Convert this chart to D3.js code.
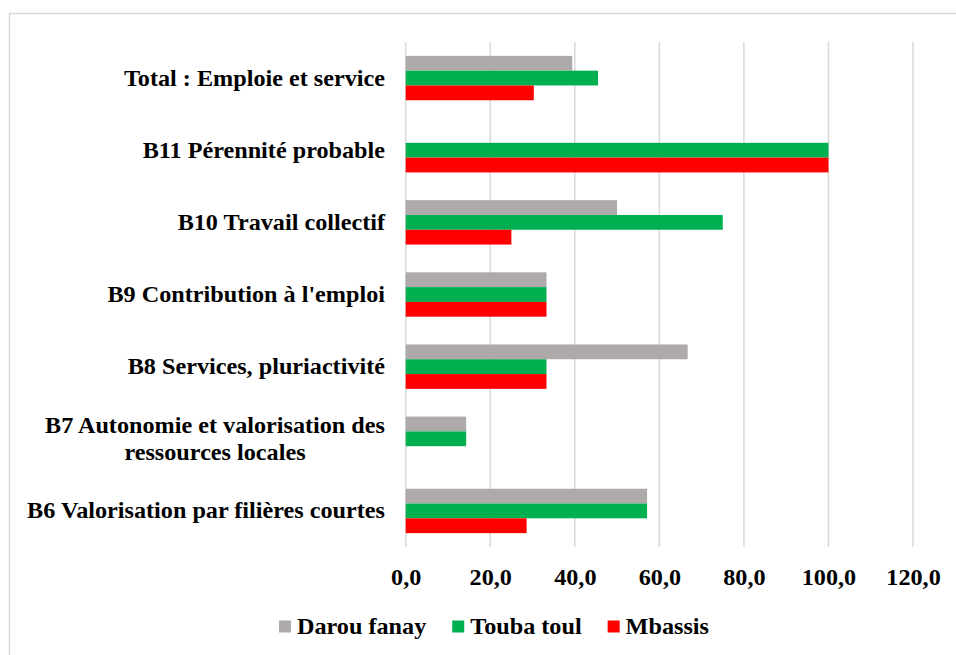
<!DOCTYPE html>
<html>
<head>
<meta charset="utf-8">
<script src="https://cdn.jsdelivr.net/npm/d3@7"></script>
<style>
  html, body { margin: 0; padding: 0; background: #fff; }
</style>
</head>
<body>
<div id="chart"></div>
<script>
// Categories top to bottom, with manual line breaks for wrapped labels
const CATEGORIES = [
    ["Total : Emploie et service"],
    ["B11 Pérennité probable"],
    ["B10 Travail collectif"],
    ["B9 Contribution à l'emploi"],
    ["B8 Services, pluriactivité"],
    ["B7 Autonomie et valorisation des", "ressources locales"],
    ["B6 Valorisation par filières courtes"],
];
const SERIES_NAMES = ["Darou fanay", "Touba toul", "Mbassis"];
const DAROU_FANAY = [39.4, 0, 50.0, 33.3, 66.7, 14.3, 57.1];
const TOUBA_TOUL = [45.5, 100.0, 75.0, 33.3, 33.3, 14.3, 57.1];
const MBASSIS = [30.3, 100.0, 25.0, 33.3, 33.3, 0, 28.6];
const X_TICKS = [0, 20, 40, 60, 80, 100, 120];

const COLORS = ["#AEAAAA", "#00B050", "#FF0000"];

const WIDTH = 956;
const HEIGHT = 655;
const PLOT = { left: 405.7, right: 913, top: 42, bottom: 547 };
const FONT = "\"Liberation Serif\", \"Times New Roman\", serif";
const FONT_SIZE = 22.5;
// The source picture is slightly wider than tall, so text is stretched a bit
const STRETCH = 1.075;

const svg = d3.select("#chart").append("svg")
    .attr("width", WIDTH)
    .attr("height", HEIGHT);

// serif bold text, widened horizontally without moving its anchor
function styleText(sel) {
    sel.style("font-family", FONT)
        .style("font-weight", "bold")
        .style("font-size", `${FONT_SIZE}px`)
        .attr("fill", "#000");
}
function stretch(node) {
    const len = node.getComputedTextLength();
    node.setAttribute("textLength", len * STRETCH);
    node.setAttribute("lengthAdjust", "spacingAndGlyphs");
    return len * STRETCH;
}

// Chart frame
svg.append("rect")
    .attr("x", 9.5).attr("y", 13.5)
    .attr("width", WIDTH).attr("height", HEIGHT)
    .attr("fill", "none")
    .attr("stroke", "#D9D9D9")
    .attr("stroke-width", 1.5);

const x = d3.scaleLinear().domain([0, 120]).range([PLOT.left, PLOT.right]);
const y = d3.scaleBand()
    .domain(d3.range(CATEGORIES.length))
    .range([PLOT.top, PLOT.bottom]);

const BAR_H = 14.8;

// Vertical gridlines
svg.append("g")
    .selectAll("line")
    .data(X_TICKS)
    .join("line")
    .attr("x1", (d) => x(d)).attr("x2", (d) => x(d))
    .attr("y1", PLOT.top).attr("y2", PLOT.bottom)
    .attr("stroke", "#D9D9D9")
    .attr("stroke-width", 1.5);

// X axis labels
const xAxis = svg.append("g")
    .attr("transform", `translate(0,${PLOT.bottom})`)
    .call(d3.axisBottom(x)
        .tickValues(X_TICKS)
        .tickFormat((v) => d3.format(".1f")(v).replace(".", ","))
        .tickSize(0)
        .tickPadding(0));
xAxis.select(".domain").remove();
xAxis.selectAll("text")
    .attr("y", 38)
    .attr("dy", null)
    .call(styleText)
    .each(function () { stretch(this); });

// Bars
const seriesData = [DAROU_FANAY, TOUBA_TOUL, MBASSIS];
seriesData.forEach((vals, si) => {
    svg.append("g")
        .selectAll("rect")
        .data(vals)
        .join("rect")
        .attr("x", x(0))
        .attr("y", (d, i) => y(i) + y.bandwidth() / 2 + (si - 1.5) * BAR_H)
        .attr("width", (d) => x(d) - x(0))
        .attr("height", BAR_H)
        .attr("fill", COLORS[si]);
});

// Category labels: right-aligned block, wrapped lines centred within it
const LABEL_RIGHT = 385;
const LINE_H = 27;
const labels = svg.append("g");
CATEGORIES.forEach((lines, i) => {
    const cy = y(i) + y.bandwidth() / 2;
    const t = labels.append("text")
        .attr("text-anchor", "middle")
        .call(styleText);
    lines.forEach((ln, j) => {
        t.append("tspan").text(ln)
            .attr("y", cy + (j - (lines.length - 1) / 2) * LINE_H + 7.5);
    });
    const w = d3.max(t.selectAll("tspan").nodes(), (n) => stretch(n));
    t.selectAll("tspan").attr("x", LABEL_RIGHT - w / 2);
});

// Legend
const legend = svg.append("g");
let lx = 279;
SERIES_NAMES.forEach((name, i) => {
    legend.append("rect")
        .attr("x", lx).attr("y", 620.5)
        .attr("width", 12).attr("height", 12)
        .attr("fill", COLORS[i]);
    const t = legend.append("text")
        .attr("x", lx + 18).attr("y", 633.5)
        .call(styleText)
        .text(name);
    lx += 18 + stretch(t.node()) + 26;
});
</script>
</body>
</html>
